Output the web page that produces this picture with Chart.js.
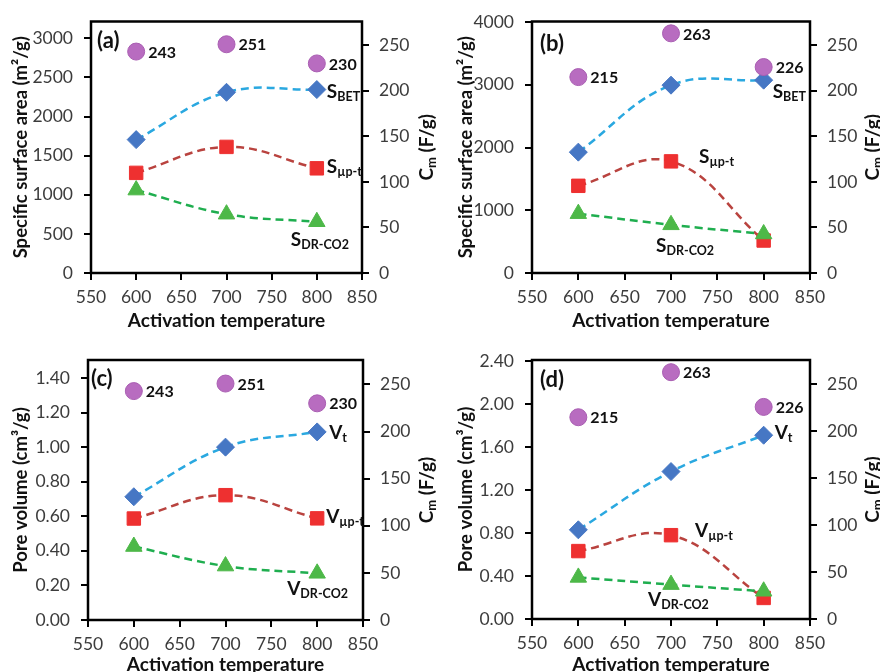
<!DOCTYPE html>
<html>
<head>
<meta charset="utf-8">
<script src="https://cdn.jsdelivr.net/npm/chart.js@4"></script>
<style>
  body { margin: 0; background: #fff; }
  #grid { position: relative; width: 880px; height: 672px; }
  canvas { position: absolute; }
</style>
</head>
<body>
<div id="grid">
  <canvas id="chartA" width="440" height="336" style="left:0;top:0"></canvas>
  <canvas id="chartB" width="440" height="336" style="left:440px;top:0"></canvas>
  <canvas id="chartC" width="440" height="336" style="left:0;top:336px"></canvas>
  <canvas id="chartD" width="440" height="336" style="left:440px;top:336px"></canvas>
</div>
<script>
// data
const temperatures = [600, 700, 800];
const xTicks = [550, 600, 650, 700, 750, 800, 850];
const cmTicks = [0, 50, 100, 150, 200, 250];

const cmA = [243, 251, 230];
const cmB = [215, 263, 226];

const sBetA = [1705, 2310, 2345];
const sMicroA = [1280, 1612, 1338];
const sDrA = [1060, 752, 655];
const surfaceTicksA = [0, 500, 1000, 1500, 2000, 2500, 3000];

const sBetB = [1927, 2995, 3075];
const sMicroB = [1390, 1780, 518];
const sDrB = [946, 768, 622];
const surfaceTicksB = [0, 1000, 2000, 3000, 4000];

const vTotC = [0.713, 1.00, 1.088];
const vMicroC = [0.587, 0.722, 0.588];
const vDrC = [0.425, 0.312, 0.27];
const volumeTicksC = [0, 0.2, 0.4, 0.6, 0.8, 1.0, 1.2, 1.4];

const vTotD = [0.83, 1.372, 1.71];
const vMicroD = [0.632, 0.78, 0.196];
const vDrD = [0.387, 0.32, 0.258];
const volumeTicksD = [0, 0.4, 0.8, 1.2, 1.6, 2.0, 2.4];

const FONT = 'Lato, "Open Sans", sans-serif';
const TICK_COLOR = '#3c3c3c';

function pts(ys) {
  return temperatures.map((t, i) => ({ x: t, y: ys[i] }));
}

// draw text made of [text, size, baselineShift] parts
function drawRich(ctx, x, y, parts, align) {
  let widths = parts.map(p => {
    ctx.font = 'bold ' + p[1] + 'px ' + FONT;
    return ctx.measureText(p[0]).width;
  });
  let total = widths.reduce((a, b) => a + b, 0);
  let cx = align === 'center' ? x - total / 2 : x;
  ctx.textBaseline = 'middle';
  ctx.textAlign = 'left';
  parts.forEach((p, i) => {
    ctx.font = 'bold ' + p[1] + 'px ' + FONT;
    ctx.fillText(p[0], cx, y + (p[2] || 0));
    cx += widths[i];
  });
}

const framePlugin = {
  id: 'frame',
  beforeDatasetsDraw(chart) {
    const { ctx, chartArea: a } = chart;
    ctx.save();
    ctx.strokeStyle = '#000';
    ctx.lineWidth = 2.5;
    ctx.strokeRect(a.left, a.top, a.right - a.left, a.bottom - a.top);
    ctx.restore();
  }
};

const notesPlugin = {
  id: 'notes',
  afterDatasetsDraw(chart, args, opts) {
    const { ctx, chartArea: a, scales } = chart;
    ctx.save();
    ctx.fillStyle = '#111';
    // panel letter
    drawRich(ctx, a.left + opts.letterDx, a.top + opts.letterDy, [[opts.letter, 22]]);
    // Cm values beside circles
    opts.cm.forEach((v, i) => {
      const px = scales.x.getPixelForValue(temperatures[i]);
      const py = scales.yR.getPixelForValue(v);
      drawRich(ctx, px + 12, py + 1, [[String(v), 16]]);
    });
    // series labels
    opts.series.forEach(s => {
      const px = scales.x.getPixelForValue(temperatures[s.i]);
      const py = scales.y.getPixelForValue(s.data[s.i]);
      drawRich(ctx, px + s.dx, py + s.dy, [[s.main, 19], [s.sub, 12.5, 5]]);
    });
    // right axis title  C_m (F/g)
    ctx.translate(opts.cmTitleX, (a.top + a.bottom) / 2);
    ctx.rotate(-Math.PI / 2);
    drawRich(ctx, 0, 0, [['C', 19], ['m', 13, 5], [' (F/g)', 19]], 'center');
    ctx.restore();
  }
};

function makePanel(id, p) {
  const line = (data, lineColor, pointColor, style, radius, order) => ({
    data: pts(data),
    borderColor: lineColor,
    borderWidth: 2.5,
    borderDash: [8, 5],
    tension: 0.4,
    pointStyle: style,
    pointRadius: radius,
    pointBackgroundColor: pointColor,
    pointBorderColor: pointColor,
    pointBorderWidth: 1,
    yAxisID: 'y',
    order: order
  });
  new Chart(document.getElementById(id), {
    type: 'line',
    data: {
      datasets: [
        line(p.top, '#2aa8e0', '#4677c4', 'rectRot', 9, 3),
        line(p.mid, '#b9433f', '#ee3030', 'rect', 9.5, 2),
        line(p.low, '#1fae4f', '#4db848', 'triangle', 9.5, 1),
        {
          data: pts(p.cm),
          showLine: false,
          pointStyle: 'circle',
          pointRadius: 8.5,
          pointBackgroundColor: '#b86cc0',
          pointBorderColor: '#a95eb2',
          pointBorderWidth: 1,
          yAxisID: 'yR',
          order: 0
        }
      ]
    },
    options: {
      responsive: false,
      animation: false,
      devicePixelRatio: 1,
      layout: { padding: { top: p.padTop, left: 0, right: 0, bottom: 0 } },
      plugins: {
        legend: { display: false },
        tooltip: { enabled: false },
        notes: {
          letter: p.letter, letterDx: p.letterDx, letterDy: p.letterDy,
          cm: p.cm, series: p.labels, cmTitleX: p.cmTitleX
        }
      },
      scales: {
        x: {
          type: 'linear',
          min: 550, max: 850,
          afterFit: s => { s.height = p.xHeight; },
          afterBuildTicks: s => { s.ticks = xTicks.map(v => ({ value: v })); },
          border: { display: false },
          grid: { drawOnChartArea: false, tickLength: 7, color: '#000', lineWidth: 2 },
          ticks: { color: TICK_COLOR, font: { family: FONT, size: 17.5 }, padding: 7, maxRotation: 0 },
          title: {
            display: true, text: 'Activation temperature', color: '#111',
            font: { family: FONT, size: 19, weight: 'bold' }, padding: { top: 0, bottom: p.xTitlePad }
          }
        },
        y: {
          position: 'left',
          min: 0, max: p.leftMax,
          afterFit: s => { s.width = p.leftWidth; },
          afterBuildTicks: s => { s.ticks = p.leftTicks.map(v => ({ value: v })); },
          border: { display: false },
          grid: { drawOnChartArea: false, tickLength: 7, color: '#000', lineWidth: 2 },
          ticks: {
            color: TICK_COLOR, font: { family: FONT, size: 17.5 }, padding: 11,
            callback: v => v.toFixed(p.decimals)
          },
          title: {
            display: true, text: p.leftTitle, color: '#111',
            font: { family: FONT, size: 18.5, weight: 'bold' }, padding: { top: p.leftTitlePad, bottom: 0 }
          }
        },
        yR: {
          position: 'right',
          min: 0, max: 276,
          afterFit: s => { s.width = p.rightWidth; },
          afterBuildTicks: s => { s.ticks = cmTicks.map(v => ({ value: v })); },
          border: { display: false },
          grid: { drawOnChartArea: false, tickLength: 7, color: '#000', lineWidth: 2 },
          ticks: { color: TICK_COLOR, font: { family: FONT, size: 17.5 }, padding: 10 }
        }
      }
    },
    plugins: [framePlugin, notesPlugin]
  });
}

makePanel('chartA', {
  top: sBetA, mid: sMicroA, low: sDrA, cm: cmA,
  leftMax: 3215, leftTicks: surfaceTicksA, decimals: 0,
  leftTitle: 'Specific surface area (m²/g)',
  padTop: 16, leftWidth: 91, rightWidth: 78, xHeight: 63,
  xTitlePad: 4, leftTitlePad: 10, cmTitleX: 427,
  letter: '(a)', letterDx: 6, letterDy: 19,
  labels: [
    { data: sBetA, i: 2, main: 'S', sub: 'BET', dx: 10, dy: 2 },
    { data: sMicroA, i: 2, main: 'S', sub: 'µp-t', dx: 10, dy: -1 },
    { data: sDrA, i: 2, main: 'S', sub: 'DR-CO2', dx: -26, dy: 18 }
  ]
});

makePanel('chartB', {
  top: sBetB, mid: sMicroB, low: sDrB, cm: cmB,
  leftMax: 4010, leftTicks: surfaceTicksB, decimals: 0,
  leftTitle: 'Specific surface area (m²/g)',
  padTop: 16, leftWidth: 92, rightWidth: 70, xHeight: 63,
  xTitlePad: 4, leftTitlePad: 15, cmTitleX: 433,
  letter: '(b)', letterDx: 8, letterDy: 22,
  labels: [
    { data: sBetB, i: 2, main: 'S', sub: 'BET', dx: 9, dy: 12 },
    { data: sMicroB, i: 1, main: 'S', sub: 'µp-t', dx: 28, dy: -4 },
    { data: sDrB, i: 1, main: 'S', sub: 'DR-CO2', dx: -15, dy: 21 }
  ]
});

makePanel('chartC', {
  top: vTotC, mid: vMicroC, low: vDrC, cm: cmA,
  leftMax: 1.504, leftTicks: volumeTicksC, decimals: 2,
  leftTitle: 'Pore volume (cm³/g)',
  padTop: 24, leftWidth: 88, rightWidth: 77, xHeight: 52,
  xTitlePad: -4, leftTitlePad: 10, cmTitleX: 427,
  letter: '(c)', letterDx: 3, letterDy: 19,
  labels: [
    { data: vTotC, i: 2, main: 'V', sub: 't', dx: 12, dy: 1 },
    { data: vMicroC, i: 2, main: 'V', sub: 'µp-t', dx: 9, dy: -1 },
    { data: vDrC, i: 2, main: 'V', sub: 'DR-CO2', dx: -30, dy: 16 }
  ]
});

makePanel('chartD', {
  top: vTotD, mid: vMicroD, low: vDrD, cm: cmB,
  leftMax: 2.41, leftTicks: volumeTicksD, decimals: 2,
  leftTitle: 'Pore volume (cm³/g)',
  padTop: 24, leftWidth: 92, rightWidth: 70, xHeight: 53,
  xTitlePad: -4, leftTitlePad: 15, cmTitleX: 433,
  letter: '(d)', letterDx: 8, letterDy: 20,
  labels: [
    { data: vTotD, i: 2, main: 'V', sub: 't', dx: 11, dy: -2 },
    { data: vMicroD, i: 1, main: 'V', sub: 'µp-t', dx: 24, dy: -4 },
    { data: vDrD, i: 1, main: 'V', sub: 'DR-CO2', dx: -23, dy: 15 }
  ]
});
</script>
</body>
</html>
